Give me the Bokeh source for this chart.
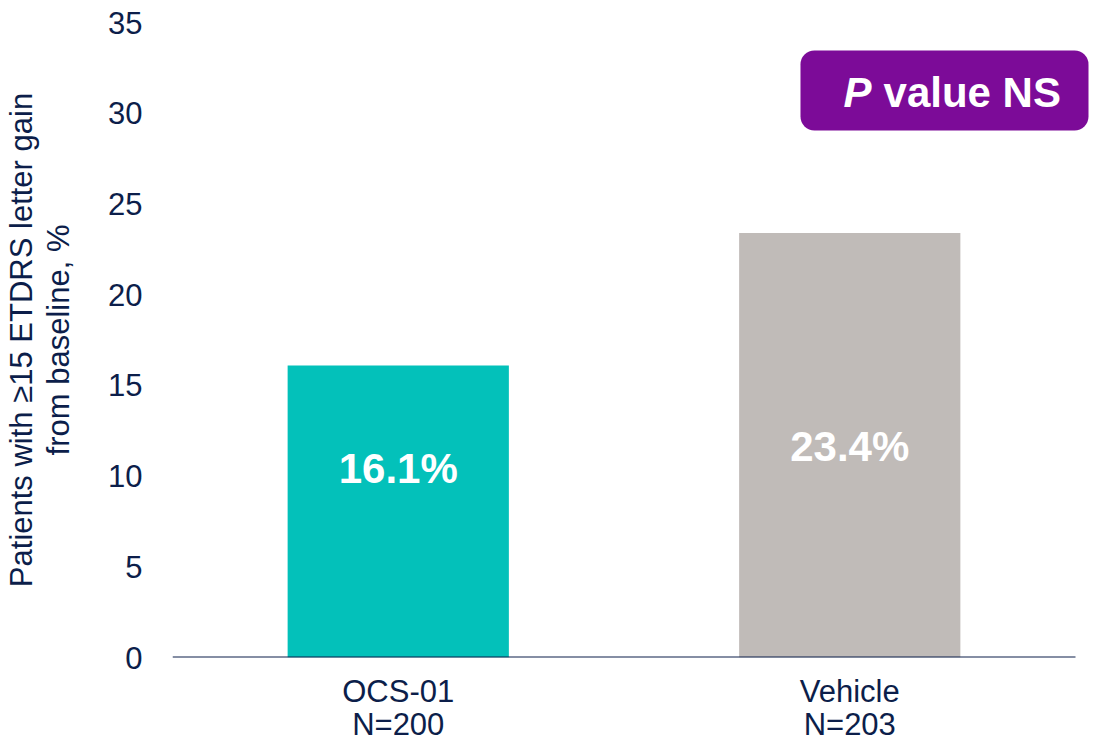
from bokeh.plotting import figure
from bokeh.models import Range1d, BoxAnnotation, Label, ColumnDataSource, LinearAxis
from bokeh.embed import file_html
from bokeh.resources import INLINE
from bokeh.core.properties import value

# ---- data ----
categories = ["OCS-01", "Vehicle"]
n_patients = [200, 203]
percent = [16.1, 23.4]
bar_colors = ["#03C1BA", "#C0BBB8"]
y_ticks = [0, 5, 10, 15, 20, 25, 30, 35]
y_title = ["Patients with \u226515 ETDRS letter gain", "from baseline, %"]
badge_parts = ["P", "value NS"]

# ---- layout constants (not data) ----
label_mid = [10.42, 11.62]
NAVY = "#0C1E4A"
PURPLE = "#7C0B98"
FONT = "Liberation Sans"
LBL = "31px"

x_pos = [i + 0.5 for i in range(len(categories))]

src = ColumnDataSource(dict(
    x=x_pos,
    pct=percent,
    color=bar_colors,
    ly=label_mid,
    txt=[f"{v}%" for v in percent],
))

p = figure(x_range=Range1d(0, 2.0443), y_range=Range1d(0, 35), width=1100, height=744,
           output_backend="svg", toolbar_location=None,
           min_border_left=172, min_border_right=5, min_border_top=22,
           min_border_bottom=87)
p.outline_line_color = None
p.xgrid.visible = False
p.ygrid.visible = False

p.vbar(x="x", top="pct", width=0.49, fill_color="color", line_color=None, source=src)
# baseline (x axis line) spanning the category band
p.segment(x0=0, y0=0, x1=len(categories), y1=0, line_color=NAVY, line_width=2)
p.text(x="x", y="ly", text="txt", source=src, text_align="center",
       text_baseline="middle", text_font=value(FONT), text_font_style="bold",
       text_font_size="42px", text_color="white")


def style_axis(ax):
    ax.axis_line_color = None
    ax.major_tick_line_color = None
    ax.minor_tick_line_color = None
    ax.major_tick_out = 0
    ax.major_tick_in = 0
    ax.minor_tick_out = 0
    ax.minor_tick_in = 0
    ax.major_label_text_font = FONT
    ax.major_label_text_font_size = LBL
    ax.major_label_text_color = NAVY
    ax.axis_label_text_font = FONT
    ax.axis_label_text_font_size = LBL
    ax.axis_label_text_font_style = "normal"
    ax.axis_label_text_color = NAVY


# y axis (ticks + second title line)
yax = p.yaxis[0]
style_axis(yax)
yax.ticker = y_ticks
yax.major_label_standoff = 30
yax.axis_label = y_title[1]
yax.axis_label_standoff = 29

# outer y axis carrying first title line
yax2 = LinearAxis(ticker=[], axis_label=y_title[0])
style_axis(yax2)
yax2.major_label_standoff = 0
yax2.axis_label_standoff = 0
p.add_layout(yax2, "left")

# x axis: category names
xax = p.xaxis[0]
style_axis(xax)
xax.ticker = x_pos
xax.major_label_overrides = {x: c for x, c in zip(x_pos, categories)}
xax.major_label_standoff = 16

# second x axis: N
xax2 = LinearAxis(ticker=x_pos,
                  major_label_overrides={x: f"N={n}" for x, n in zip(x_pos, n_patients)})
style_axis(xax2)
xax2.major_label_standoff = -5
p.add_layout(xax2, "below")

# badge
p.add_layout(BoxAnnotation(left=1.3909, right=2.0288, top=33.457, bottom=29.047,
                           fill_color=PURPLE, fill_alpha=1.0, line_color=None,
                           border_radius=14))
p.add_layout(Label(x=1.4862, y=31.14, text=badge_parts[0], text_align="left",
                   text_baseline="middle", text_font=FONT,
                   text_font_style="bold italic", text_font_size="42px",
                   text_color="white"))
p.add_layout(Label(x=1.5748, y=31.14, text=badge_parts[1], text_align="left",
                   text_baseline="middle", text_font=FONT,
                   text_font_style="bold", text_font_size="42px",
                   text_color="white"))

open("out.html", "w").write(file_html(p, INLINE))
